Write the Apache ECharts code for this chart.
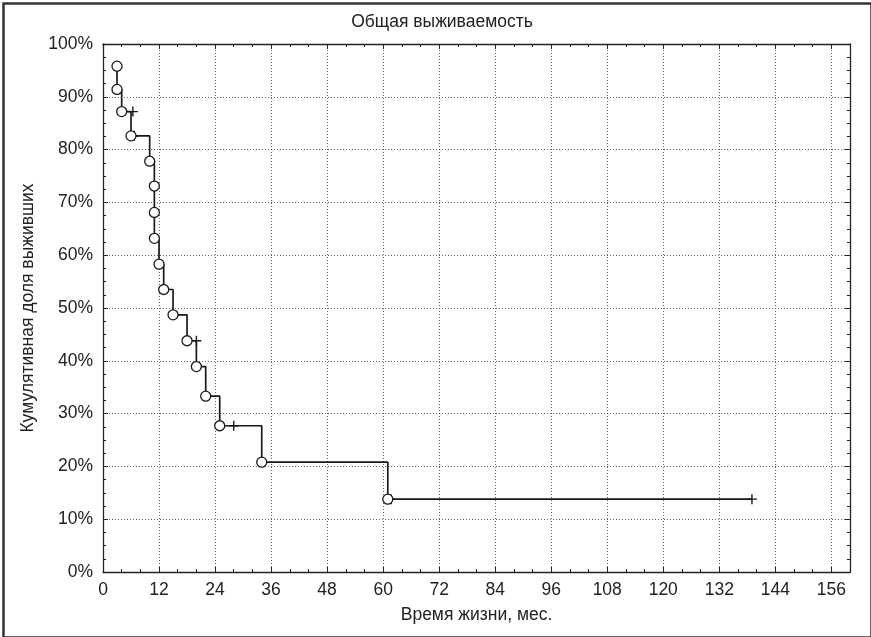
<!DOCTYPE html>
<html>
<head>
<meta charset="utf-8">
<script src="https://cdn.jsdelivr.net/npm/echarts@6/dist/echarts.min.js"></script>
<style>
html,body{margin:0;padding:0;background:#fff;}
#chart{width:871px;height:637px;}
</style>
</head>
<body>
<div id="chart"></div>
<script>
// Event (death) times in months and cumulative survival (%) after each event
const eventTimes = [3, 3, 4, 6, 10, 11, 11, 11, 12, 13, 15, 18, 20, 22, 25, 34, 61];
const eventSurvival = [95.8, 91.4, 87.2, 82.6, 77.8, 73.1, 68.1, 63.2, 58.3, 53.5, 48.7, 43.8, 38.9, 33.3, 27.7, 20.8, 13.8];
// Censored observations
const censorTimes = [6.4, 6.7, 20, 28, 61.7, 139];
const censorSurvival = [87.2, 82.6, 43.8, 27.7, 13.8, 13.8];
// Axis settings
const xMax = 160, xInterval = 12;
const yMax = 100, yInterval = 10;
const titleText = 'Общая выживаемость';
const xAxisTitle = 'Время жизни, мес.';
const yAxisTitle = 'Кумулятивная доля выживших';

const font = '"Liberation Sans", Arial, sans-serif';
const fs = 17.5;

// step line: events then last follow-up point
const lineData = eventTimes.map((t, i) => [t, eventSurvival[i]]);
lineData.push([censorTimes[censorTimes.length - 1], censorSurvival[censorSurvival.length - 1]]);
const eventData = eventTimes.map((t, i) => [t, eventSurvival[i]]);
const censorData = censorTimes.map((t, i) => [t, censorSurvival[i]]);

const chart = echarts.init(document.getElementById('chart'), null, {renderer: 'canvas'});

const baseX = {
  type: 'value', min: 0, max: xMax, interval: xInterval,
  axisLine: {show: true, onZero: false, lineStyle: {color: '#222', width: 1.3}},
  axisTick: {show: true, inside: true, length: 5, lineStyle: {color: '#222'}},
  minorTick: {show: true, splitNumber: 3, length: 3, lineStyle: {color: '#222'}},
};
const baseY = {
  type: 'value', min: 0, max: yMax, interval: yInterval,
  axisLine: {show: true, onZero: false, lineStyle: {color: '#222', width: 1.3}},
  axisTick: {show: true, inside: true, length: 5, lineStyle: {color: '#222'}},
  minorTick: {show: true, splitNumber: 4, length: 3, lineStyle: {color: '#222'}},
};

chart.setOption({
  backgroundColor: '#fff',
  animation: false,
  title: {
    text: titleText, left: 437, top: 8, textAlign: 'center',
    textStyle: {fontFamily: font, fontSize: fs, fontWeight: 'normal', color: '#222'}
  },
  graphic: [{
    type: 'rect', left: 1, top: 1, z: 100,
    shape: {x: 0, y: 0, width: 868, height: 634},
    style: {fill: 'none', stroke: '#333', lineWidth: 2.5}
  }],
  grid: {left: 103, right: 21, top: 44, bottom: 65},
  xAxis: [
    Object.assign({}, baseX, {
      position: 'bottom',
      name: xAxisTitle, nameLocation: 'middle', nameGap: 34,
      nameTextStyle: {fontFamily: font, fontSize: fs, color: '#222'},
      axisLabel: {show: true, showMaxLabel: false, margin: 9, fontFamily: font, fontSize: fs, color: '#222'},
      splitLine: {show: true, lineStyle: {color: '#666', type: [1, 2], width: 1}}
    }),
    Object.assign({}, baseX, {
      position: 'top',
      axisLabel: {show: false},
      splitLine: {show: false}
    })
  ],
  yAxis: [
    Object.assign({}, baseY, {
      position: 'left',
      name: yAxisTitle, nameLocation: 'middle', nameGap: 61,
      nameTextStyle: {fontFamily: font, fontSize: fs, color: '#222'},
      axisLabel: {show: true, margin: 10, fontFamily: font, fontSize: fs, color: '#222', formatter: '{value}%'},
      splitLine: {show: true, lineStyle: {color: '#666', type: [1, 2], width: 1}}
    }),
    Object.assign({}, baseY, {
      position: 'right',
      axisLabel: {show: false},
      splitLine: {show: false}
    })
  ],
  series: [
    {
      type: 'line', data: lineData, step: 'end', showSymbol: false, symbol: 'none',
      lineStyle: {color: '#1a1a1a', width: 1.7}, z: 2
    },
    {
      type: 'scatter', data: eventData, symbol: 'circle', symbolSize: 10,
      itemStyle: {color: '#fff', borderColor: '#1a1a1a', borderWidth: 1.3, opacity: 1}, z: 4
    },
    {
      type: 'scatter', data: censorData,
      symbol: 'path://M5,0 L5,10 M0,5 L10,5', symbolSize: 10, symbolKeepAspect: true,
      itemStyle: {color: 'none', borderColor: '#1a1a1a', borderWidth: 1.4, opacity: 1}, z: 3
    }
  ]
});
</script>
</body>
</html>
